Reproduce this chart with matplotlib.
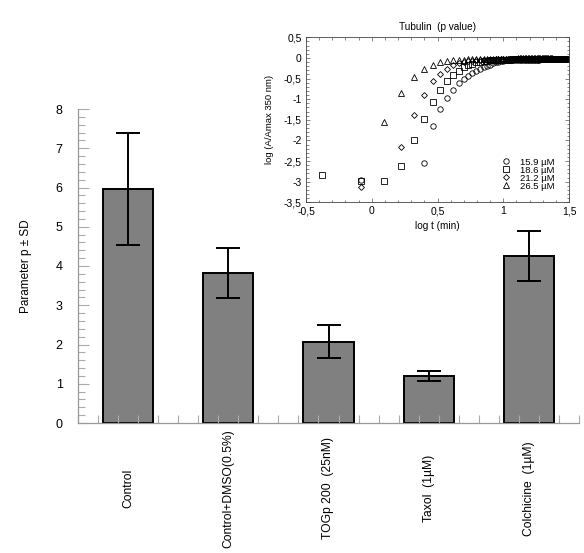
import numpy as np
import matplotlib
matplotlib.use("Agg")
import matplotlib.pyplot as plt
from matplotlib.ticker import MultipleLocator, FixedLocator

plt.rcParams['font.family'] = ['Liberation Sans', 'DejaVu Sans']

# ---------------- main bar chart data ----------------
categories = ["Control", "Control+DMSO(0.5%)", "TOGp 200  (25nM)", "Taxol  (1µM)", "Colchicine  (1µM)"]
param_p = [5.96, 3.83, 2.07, 1.20, 4.25]
param_sd = [1.42, 0.64, 0.42, 0.13, 0.63]
main_yticks = [0, 1, 2, 3, 4, 5, 6, 7, 8]

# ---------------- inset data ----------------
time_min = [0.42, 0.83, 1.25, 1.67, 2.08, 2.50, 2.92, 3.33, 3.75, 4.17,
            4.58, 5.00, 5.42, 5.83, 6.25, 6.67, 7.08, 7.50, 7.92, 8.33,
            8.75, 9.17, 9.58, 10.00, 10.42, 10.83, 11.25, 11.67, 12.08, 12.50,
            12.92, 13.33, 13.75, 14.17, 14.58, 15.00, 15.42, 15.83, 16.25, 16.67,
            17.08, 17.50, 17.92, 18.33, 18.75, 19.17, 19.58, 20.00, 20.42, 20.83,
            21.25, 21.67, 22.08, 22.50, 22.92, 23.33, 23.75, 24.17, 24.58, 25.00,
            25.42, 25.83, 26.25, 26.67, 27.08, 27.50, 27.92, 28.33, 28.75, 29.17,
            29.58, 30.00]
nan = np.nan
logA_159 = [nan, -2.97, nan, nan, nan, -2.54, -1.65, -1.24, -0.97, -0.77,
            -0.62, -0.50, -0.43, -0.37, -0.32, -0.27, -0.23, -0.19, -0.16, -0.13,
            -0.11, -0.09, -0.08, -0.07, -0.06, -0.06, -0.05, -0.05, -0.05, -0.05,
            -0.04, -0.04, -0.04, -0.04, -0.04, -0.04, -0.04, -0.04, -0.04, -0.04,
            -0.04, -0.04, -0.04, -0.04, -0.04, -0.03, -0.03, -0.03, -0.03, -0.03,
            -0.03, -0.03, -0.03, -0.03, -0.03, -0.03, -0.03, -0.03, -0.03, -0.03,
            -0.03, -0.03, -0.03, -0.03, -0.03, -0.03, -0.03, -0.03, -0.03, -0.03,
            -0.03, -0.03]
logA_186 = [-2.85, -2.98, -2.99, -2.63, -1.99, -1.49, -1.08, -0.78, -0.57, -0.42,
            -0.31, -0.23, -0.18, -0.14, -0.11, -0.09, -0.08, -0.07, -0.06, -0.05,
            -0.05, -0.05, -0.04, -0.04, -0.04, -0.04, -0.04, -0.03, -0.03, -0.03,
            -0.03, -0.03, -0.03, -0.03, -0.03, -0.03, -0.03, -0.03, -0.03, -0.03,
            -0.03, -0.03, -0.03, -0.03, -0.03, -0.03, -0.03, -0.03, -0.02, -0.02,
            -0.02, -0.02, -0.02, -0.02, -0.02, -0.02, -0.02, -0.02, -0.02, -0.02,
            -0.02, -0.02, -0.02, -0.02, -0.02, -0.02, -0.02, -0.02, -0.02, -0.02,
            -0.02, -0.02]
logA_212 = [nan, -3.14, nan, -2.16, -1.38, -0.89, -0.57, -0.39, -0.27, -0.18,
            -0.13, -0.10, -0.08, -0.07, -0.06, -0.05, -0.05, -0.04, -0.04, -0.04,
            -0.03, -0.03, -0.03, -0.03, -0.03, -0.03, -0.03, -0.03, -0.03, -0.03,
            -0.03, -0.03, -0.02, -0.02, -0.02, -0.02, -0.02, -0.02, -0.02, -0.02,
            -0.02, -0.02, -0.02, -0.02, -0.02, -0.02, -0.02, -0.02, -0.02, -0.02,
            -0.02, -0.02, -0.02, -0.02, -0.02, -0.02, -0.02, -0.02, -0.02, -0.02,
            -0.02, -0.02, -0.02, -0.02, -0.02, -0.02, -0.02, -0.02, -0.02, -0.02,
            -0.02, -0.02]
logA_265 = [nan, nan, -1.56, -0.85, -0.46, -0.27, -0.16, -0.10, -0.07, -0.05,
            -0.04, -0.04, -0.03, -0.03, -0.03, -0.02, -0.02, -0.02, -0.02, -0.02,
            -0.02, -0.02, -0.02, -0.02, -0.02, -0.02, -0.02, -0.02, -0.02, -0.02,
            -0.01, -0.01, -0.01, -0.01, -0.01, -0.01, -0.01, -0.01, -0.01, -0.01,
            -0.01, -0.01, -0.01, -0.01, -0.01, -0.01, -0.01, -0.01, -0.01, -0.01,
            -0.01, -0.01, -0.01, -0.01, -0.01, -0.01, nan, nan, nan, nan,
            nan, nan, nan, nan, nan, nan, nan, nan, nan, nan,
            nan, nan]
series_labels = ["15.9 µM", "18.6 µM", "21.2 µM", "26.5 µM"]
series_markers = ["o", "s", "D", "^"]
inset_xticks = [-0.5, 0, 0.5, 1, 1.5]
inset_xticklabels = ["-0,5", "0", "0,5", "1", "1,5"]
inset_yticks = [0.5, 0, -0.5, -1, -1.5, -2, -2.5, -3, -3.5]
inset_yticklabels = ["0,5", "0", "-0,5", "-1", "-1,5", "-2", "-2,5", "-3", "-3,5"]

W, H = 584, 553
fig = plt.figure(figsize=(W / 100, H / 100), dpi=100)

# ---------------- main axes ----------------
ax = fig.add_axes([78 / W, (H - 423) / H, 501 / W, 314 / H])
x = np.arange(len(categories))
ax.bar(x, param_p, width=0.5, color='#808080', edgecolor='black', linewidth=1.4, zorder=1)
ax.errorbar(x, param_p, yerr=param_sd, fmt='none', ecolor='black', elinewidth=1.4,
            capsize=8.5, capthick=1.4, zorder=3)
ax.set_xlim(-0.5, 4.5)
ax.set_ylim(0, 8)
ax.set_yticks(main_yticks)
ax.yaxis.set_minor_locator(MultipleLocator(0.2))
ax.set_xticks(x, categories, rotation=90, fontsize=8.7)
for lbl in ax.get_xticklabels():
    lbl.set_verticalalignment('center')
ax.xaxis.set_minor_locator(FixedLocator(np.arange(-0.5, 4.51, 0.2)))
ax.tick_params(axis='x', which='major', length=0, pad=47)
ax.tick_params(axis='x', which='minor', direction='in', length=6, width=0.8, color='#aaaaaa')
ax.tick_params(axis='y', which='major', direction='in', length=8, width=0.8, color='#aaaaaa',
               labelsize=9, pad=11)
ax.tick_params(axis='y', which='minor', direction='in', length=5, width=0.8, color='#aaaaaa')
for s in ['top', 'right']:
    ax.spines[s].set_visible(False)
for s in ['left', 'bottom']:
    ax.spines[s].set_color('#999999')
    ax.spines[s].set_linewidth(0.9)
ax.set_ylabel("Parameter p ± SD", fontsize=8.5, labelpad=17)

# ---------------- inset axes ----------------
ins = fig.add_axes([306 / W, (H - 202.3) / H, 263 / W, 165 / H])
ins.set_facecolor('white')
lt = np.log10(np.array(time_min))
for yv, m, lab in zip([logA_159, logA_186, logA_212, logA_265], series_markers, series_labels):
    ms = 3.9 if m != 'D' else 3.0
    ins.plot(lt, yv, linestyle='none', marker=m, markersize=ms, markerfacecolor='none',
             markeredgecolor='black', markeredgewidth=0.6, label=lab)
ins.set_xlim(-0.5, 1.5)
ins.set_ylim(-3.5, 0.5)
ins.set_xticks(inset_xticks, inset_xticklabels)
ins.set_yticks(inset_yticks, inset_yticklabels)
ins.xaxis.set_minor_locator(MultipleLocator(0.1))
ins.yaxis.set_minor_locator(MultipleLocator(0.1))
ins.tick_params(which='both', direction='in', top=True, right=True, width=0.5, color='#555555',
                labelsize=7.5, pad=3)
ins.tick_params(which='major', length=3)
ins.tick_params(which='minor', length=1.8)
for s in ins.spines.values():
    s.set_linewidth(0.6)
    s.set_color('#444444')
ins.set_title("Tubulin  (p value)", fontsize=7.2, pad=5)
ins.set_xlabel("log t (min)", fontsize=7.2, labelpad=3)
ins.set_ylabel("log (A/Amax 350 nm)", fontsize=6.8, labelpad=7)
ins.legend(loc='lower right', bbox_to_anchor=(0.97, 0.03), frameon=False, fontsize=6.8,
           handlelength=1.0, handletextpad=1.0, labelspacing=-0.1, borderpad=0.2)

fig.savefig("out.png", dpi=100)
